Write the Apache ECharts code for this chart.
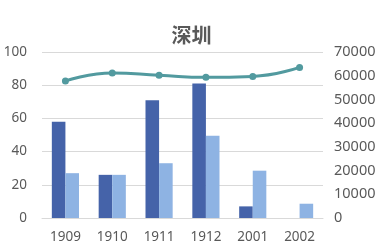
<!DOCTYPE html>
<html><head><meta charset="utf-8">
<script src="https://cdn.jsdelivr.net/npm/echarts@6/dist/echarts.min.js"></script>
<style>html,body{margin:0;padding:0;background:#fff}#c{width:383px;height:252px}</style>
</head><body><div id="c"></div>
<script>
const categories = ['1909','1910','1911','1912','2001','2002'];
const seriesDark = [58, 26, 71, 81, 7, 0];
const seriesLight = [27, 26, 33, 49.5, 28.5, 8.6];
const lineValues = [57800, 61100, 60200, 59300, 59700, 63500];
const leftTicks = {min:0, max:100, interval:20};
const rightTicks = {min:0, max:70000, interval:10000};

const chart = echarts.init(document.getElementById('c'));
const lbl = {color:'#595959', fontSize:13.5, fontFamily:'Noto Sans, sans-serif'};
chart.setOption({
  animation:false,
  title:{text:'深圳', left:'center', top:20, textStyle:{color:'#595959', fontSize:20, fontWeight:'bold', fontFamily:'Noto Sans CJK SC'}},
  grid:{left:42, right:60, top:52, bottom:34, containLabel:false},
  xAxis:{type:'category', data:categories, axisTick:{show:false},
    axisLine:{show:true, lineStyle:{color:'#d9d9d9'}},
    axisLabel:Object.assign({margin:12}, lbl)},
  yAxis:[
    {type:'value', min:leftTicks.min, max:leftTicks.max, interval:leftTicks.interval,
     axisLine:{show:false}, axisTick:{show:false}, splitLine:{lineStyle:{color:'#d9d9d9'}},
     axisLabel:Object.assign({margin:15}, lbl)},
    {type:'value', min:rightTicks.min, max:rightTicks.max, interval:rightTicks.interval,
     axisLine:{show:false}, axisTick:{show:false}, splitLine:{show:false},
     axisLabel:Object.assign({margin:11, formatter:v=>String(v), fontSize:14.5}, {color:lbl.color, fontFamily:lbl.fontFamily})}
  ],
  series:[
    {type:'bar', data:seriesDark, itemStyle:{color:'#4563A9'}, barGap:'0%', barCategoryGap:'42%'},
    {type:'bar', data:seriesLight, itemStyle:{color:'#8EB3E3'}},
    {type:'line', yAxisIndex:1, data:lineValues, smooth:true, symbol:'circle', symbolSize:7,
     lineStyle:{color:'#529A9F', width:3}, itemStyle:{color:'#529A9F'}}
  ]
});
</script></body></html>
